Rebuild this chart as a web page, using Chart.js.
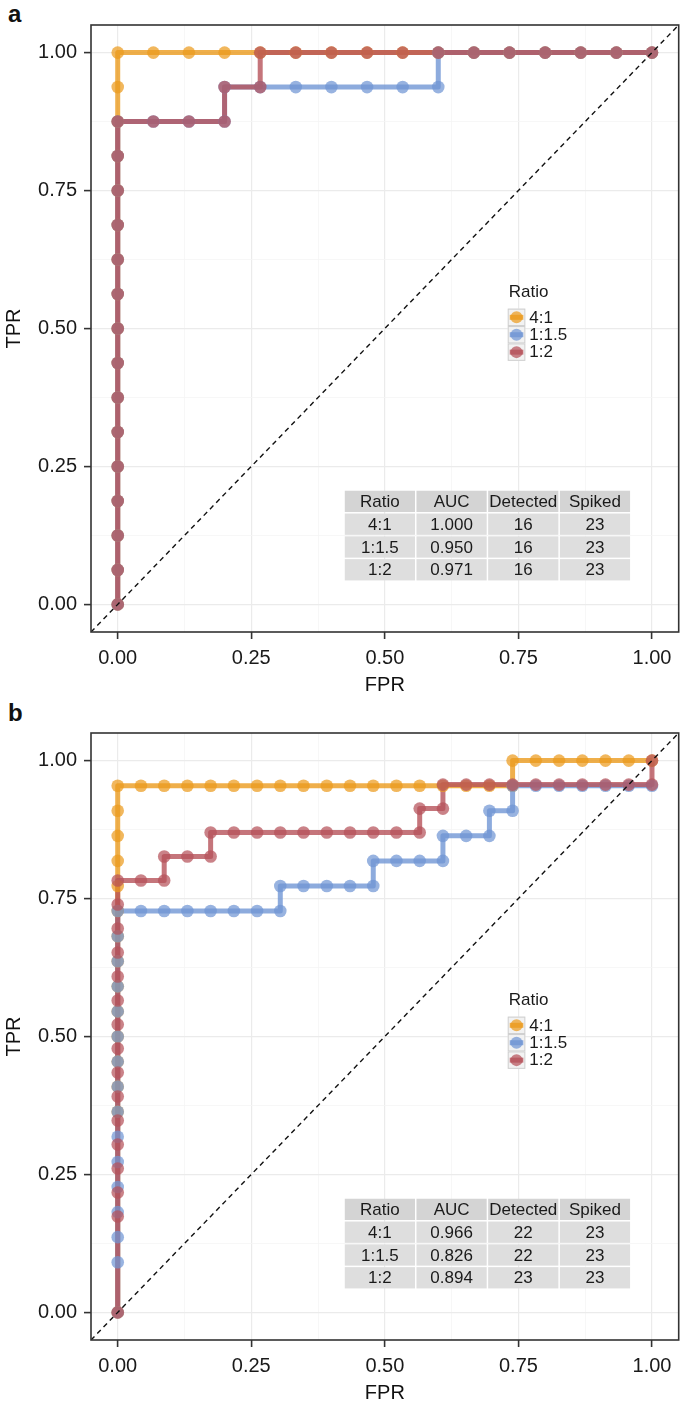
<!DOCTYPE html>
<html>
<head>
<meta charset="utf-8">
<script src="https://cdn.jsdelivr.net/npm/chart.js@4.4.0/dist/chart.umd.min.js"></script>
<style>
  html, body { margin: 0; padding: 0; background: #fff; }
  body { width: 685px; height: 1411px; position: relative; overflow: hidden; font-family: "Liberation Sans", Arial, sans-serif; }
  canvas { position: absolute; left: 0; }
  #chartA { top: 0; }
  #chartB { top: 708px; }
  .tag { position: absolute; left: 8px; font-weight: bold; font-size: 24px; line-height: 28px; color: #111; }
</style>
</head>
<body>
<div class="tag" style="top:0">a</div>
<div class="tag" style="top:699px">b</div>
<canvas id="chartA" width="685" height="702"></canvas>
<canvas id="chartB" width="685" height="702"></canvas>
<script>
// ---- data ----
const ratios = ['4:1', '1:1.5', '1:2'];
const tickVals = [0, 0.25, 0.5, 0.75, 1];
const tickLabels = ['0.00', '0.25', '0.50', '0.75', '1.00'];
const gridVals = [0, 0.125, 0.25, 0.375, 0.5, 0.625, 0.75, 0.875, 1];
const diagonal = [-0.05, 1.05];
const tableHead = ['Ratio', 'AUC', 'Detected', 'Spiked'];

// panel a
const fprA_41 = [0, 0, 0, 0, 0, 0, 0, 0, 0, 0, 0, 0, 0, 0, 0, 0, 0,
  0.0667, 0.1333, 0.2, 0.2667, 0.3333, 0.4, 0.4667, 0.5333, 0.6, 0.6667, 0.7333, 0.8, 0.8667, 0.9333, 1];
const tprA_41 = [0, 0.0625, 0.125, 0.1875, 0.25, 0.3125, 0.375, 0.4375, 0.5, 0.5625, 0.625, 0.6875, 0.75, 0.8125, 0.875, 0.9375, 1,
  1, 1, 1, 1, 1, 1, 1, 1, 1, 1, 1, 1, 1, 1, 1];
const fprA_115 = [0, 0, 0, 0, 0, 0, 0, 0, 0, 0, 0, 0, 0, 0, 0,
  0.0667, 0.1333, 0.2, 0.2, 0.2667, 0.3333, 0.4, 0.4667, 0.5333, 0.6, 0.6, 0.6667, 0.7333, 0.8, 0.8667, 0.9333, 1];
const tprA_115 = [0, 0.0625, 0.125, 0.1875, 0.25, 0.3125, 0.375, 0.4375, 0.5, 0.5625, 0.625, 0.6875, 0.75, 0.8125, 0.875,
  0.875, 0.875, 0.875, 0.9375, 0.9375, 0.9375, 0.9375, 0.9375, 0.9375, 0.9375, 1, 1, 1, 1, 1, 1, 1];
const fprA_12 = [0, 0, 0, 0, 0, 0, 0, 0, 0, 0, 0, 0, 0, 0, 0,
  0.0667, 0.1333, 0.2, 0.2, 0.2667, 0.2667, 0.3333, 0.4, 0.4667, 0.5333, 0.6, 0.6667, 0.7333, 0.8, 0.8667, 0.9333, 1];
const tprA_12 = [0, 0.0625, 0.125, 0.1875, 0.25, 0.3125, 0.375, 0.4375, 0.5, 0.5625, 0.625, 0.6875, 0.75, 0.8125, 0.875,
  0.875, 0.875, 0.875, 0.9375, 0.9375, 1, 1, 1, 1, 1, 1, 1, 1, 1, 1, 1, 1];
const aucA = [1.000, 0.950, 0.971];
const detectedA = [16, 16, 16];
const spikedA = [23, 23, 23];

// panel b
const fprB_41 = [0, 0, 0, 0, 0, 0, 0, 0, 0, 0, 0, 0, 0, 0, 0,
  0.0435, 0.087, 0.1304, 0.1739, 0.2174, 0.2609, 0.3043, 0.3478, 0.3913, 0.4348, 0.4783, 0.5217, 0.5652, 0.6087, 0.6522, 0.6957, 0.7391,
  0.7391, 0.7826, 0.8261, 0.8696, 0.913, 0.9565, 1];
const tprB_41 = [0, 0.3636, 0.4091, 0.4545, 0.5, 0.5455, 0.5909, 0.6364, 0.6818, 0.7273, 0.7727, 0.8182, 0.8636, 0.9091, 0.9545,
  0.9545, 0.9545, 0.9545, 0.9545, 0.9545, 0.9545, 0.9545, 0.9545, 0.9545, 0.9545, 0.9545, 0.9545, 0.9545, 0.9545, 0.9545, 0.9545, 0.9545,
  1, 1, 1, 1, 1, 1, 1];
const fprB_115 = [0, 0, 0, 0, 0, 0, 0, 0, 0, 0, 0, 0, 0, 0, 0, 0,
  0.0435, 0.087, 0.1304, 0.1739, 0.2174, 0.2609, 0.3043,
  0.3043, 0.3478, 0.3913, 0.4348, 0.4783,
  0.4783, 0.5217, 0.5652, 0.6087,
  0.6087, 0.6522, 0.6957,
  0.6957, 0.7391,
  0.7391, 0.7826, 0.8261, 0.8696, 0.913, 0.9565, 1];
const tprB_115 = [0, 0.0909, 0.1364, 0.1818, 0.2273, 0.2727, 0.3182, 0.3636, 0.4091, 0.4545, 0.5, 0.5455, 0.5909, 0.6364, 0.6818, 0.7273,
  0.7273, 0.7273, 0.7273, 0.7273, 0.7273, 0.7273, 0.7273,
  0.7727, 0.7727, 0.7727, 0.7727, 0.7727,
  0.8182, 0.8182, 0.8182, 0.8182,
  0.8636, 0.8636, 0.8636,
  0.9091, 0.9091,
  0.9545, 0.9545, 0.9545, 0.9545, 0.9545, 0.9545, 0.9545];
const fprB_12 = [0, 0, 0, 0, 0, 0, 0, 0, 0, 0, 0, 0, 0, 0, 0, 0,
  0.0435, 0.087,
  0.087, 0.1304, 0.1739,
  0.1739, 0.2174, 0.2609, 0.3043, 0.3478, 0.3913, 0.4348, 0.4783, 0.5217, 0.5652,
  0.5652, 0.6087,
  0.6087, 0.6522, 0.6957, 0.7391, 0.7826, 0.8261, 0.8696, 0.913, 0.9565, 1,
  1];
const tprB_12 = [0, 0.1739, 0.2174, 0.2609, 0.3043, 0.3478, 0.3913, 0.4348, 0.4783, 0.5217, 0.5652, 0.6087, 0.6522, 0.6957, 0.7391, 0.7826,
  0.7826, 0.7826,
  0.8261, 0.8261, 0.8261,
  0.8696, 0.8696, 0.8696, 0.8696, 0.8696, 0.8696, 0.8696, 0.8696, 0.8696, 0.8696,
  0.913, 0.913,
  0.9565, 0.9565, 0.9565, 0.9565, 0.9565, 0.9565, 0.9565, 0.9565, 0.9565, 0.9565,
  1];
const aucB = [0.966, 0.826, 0.894];
const detectedB = [22, 22, 23];
const spikedB = [23, 23, 23];

// ---- styles ----
const baseRGB = ['235,155,30', '112,150,212', '182,82,90'];
const lineColors = baseRGB.map(c => `rgba(${c},0.8)`);
const pointColors = baseRGB.map(c => `rgba(${c},0.72)`);
const legendAt = [0.73, 0.565];   // data coords of legend title (left, middle)
const tableAt = [0.425, 0.206];   // data coords of table top-left
const FONT = '"Liberation Sans", Arial, sans-serif';
Chart.defaults.font.family = FONT;

const isMajor = v => tickVals.some(t => Math.abs(t - v) < 1e-6);

function pts(fpr, tpr) {
  return fpr.map((x, i) => ({ x: x, y: tpr[i] }));
}

function buildDatasets(series) {
  const ds = [];
  // lines first (all series), then points, then the chance diagonal on top
  series.forEach((s, i) => ds.push({
    data: pts(s[0], s[1]), showLine: true, borderColor: lineColors[i], borderWidth: 5,
    pointRadius: 0, borderJoinStyle: 'round', order: 10 - i
  }));
  series.forEach((s, i) => ds.push({
    data: pts(s[0], s[1]), showLine: false, pointRadius: 6.3, pointBorderWidth: 0,
    pointBackgroundColor: pointColors[i], backgroundColor: pointColors[i], borderColor: 'rgba(0,0,0,0)', order: 6 - i
  }));
  ds.push({
    data: pts(diagonal, diagonal), showLine: true, borderColor: '#111', borderWidth: 1.4,
    borderDash: [5, 4], pointRadius: 0, order: 0
  });
  return ds;
}

function axis(titleText) {
  return {
    type: 'linear', min: -0.05, max: 1.05,
    afterBuildTicks: s => { s.ticks = gridVals.map(v => ({ value: v })); },
    ticks: {
      autoSkip: false, maxRotation: 0, padding: 7, color: '#1a1a1a',
      font: { size: 20 },
      callback: v => { const k = tickVals.findIndex(t => Math.abs(t - v) < 1e-6); return k < 0 ? '' : tickLabels[k]; }
    },
    grid: {
      color: c => isMajor(c.tick.value) ? '#EBEBEB' : '#F5F5F5',
      lineWidth: c => isMajor(c.tick.value) ? 1.2 : 0.8,
      tickColor: c => isMajor(c.tick.value) ? '#333' : 'rgba(0,0,0,0)',
      tickLength: 7, tickWidth: 1.6
    },
    border: { display: false },
    title: { display: true, text: titleText, color: '#111', font: { size: 20 }, padding: { top: 2, bottom: 5 } }
  };
}

const panelDecor = {
  id: 'panelDecor',
  afterDraw(chart, args, opts) {
    const { ctx, chartArea: a, scales: { x, y } } = chart;
    ctx.save();
    // panel frame
    ctx.strokeStyle = '#333';
    ctx.lineWidth = 1.6;
    ctx.strokeRect(a.left, a.top, a.right - a.left, a.bottom - a.top);

    // legend
    const lx = x.getPixelForValue(legendAt[0]);
    const ly = y.getPixelForValue(legendAt[1]);
    ctx.font = '17px ' + FONT;
    ctx.textBaseline = 'middle';
    ctx.textAlign = 'left';
    ctx.fillStyle = '#1a1a1a';
    ctx.fillText('Ratio', lx + 1, ly);
    const kw = 17.6, kh = 17.4;
    ratios.forEach((r, i) => {
      const by = ly + 16 + i * kh;
      ctx.fillStyle = '#F2F2F2';
      ctx.fillRect(lx, by, kw, kh);
      ctx.strokeStyle = '#CFCFCF';
      ctx.lineWidth = 1;
      ctx.strokeRect(lx + 0.5, by + 0.5, kw - 1, kh - 1);
      ctx.strokeStyle = lineColors[i];
      ctx.lineWidth = 5;
      ctx.beginPath();
      ctx.moveTo(lx + 2, by + kh / 2);
      ctx.lineTo(lx + kw - 2, by + kh / 2);
      ctx.stroke();
      ctx.fillStyle = pointColors[i];
      ctx.beginPath();
      ctx.arc(lx + kw / 2, by + kh / 2, 6, 0, Math.PI * 2);
      ctx.fill();
      ctx.fillStyle = '#1a1a1a';
      ctx.fillText(r, lx + kw + 4, by + kh / 2 + 0.5);
    });

    // AUC table
    const tx = x.getPixelForValue(tableAt[0]);
    const ty = y.getPixelForValue(tableAt[1]);
    const cw = 71.7, rh = 22.8;
    const rows = [tableHead].concat(opts.rows);
    ctx.font = '17px ' + FONT;
    ctx.textAlign = 'center';
    rows.forEach((row, r) => {
      row.forEach((txt, c) => {
        const cx = tx + c * cw, cy = ty + r * rh;
        ctx.fillStyle = r === 0 ? '#D4D4D4' : '#DEDEDE';
        ctx.fillRect(cx, cy, cw - 1.5, rh - 1.5);
        ctx.fillStyle = '#1a1a1a';
        ctx.fillText(txt, cx + (cw - 1.5) / 2, cy + (rh - 1.5) / 2 + 1);
      });
    });
    ctx.restore();
  }
};

function tableRows(auc, detected, spiked) {
  return ratios.map((r, i) => [r, auc[i].toFixed(3), String(detected[i]), String(spiked[i])]);
}

function makeChart(id, series, rows) {
  const xAxis = axis('FPR');
  xAxis.afterFit = s => { s.height = 70; };
  const yAxis = axis('TPR');
  yAxis.afterFit = s => { s.width = 91; };
  return new Chart(document.getElementById(id), {
    type: 'scatter',
    data: { datasets: buildDatasets(series) },
    options: {
      responsive: false,
      animation: false,
      events: [],
      layout: { padding: { top: 25, right: 1, left: 0, bottom: 0 } },
      plugins: {
        legend: { display: false },
        tooltip: { enabled: false },
        panelDecor: { rows: rows }
      },
      scales: { x: xAxis, y: yAxis }
    },
    plugins: [panelDecor]
  });
}

makeChart('chartA',
  [[fprA_41, tprA_41], [fprA_115, tprA_115], [fprA_12, tprA_12]],
  tableRows(aucA, detectedA, spikedA));
makeChart('chartB',
  [[fprB_41, tprB_41], [fprB_115, tprB_115], [fprB_12, tprB_12]],
  tableRows(aucB, detectedB, spikedB));
</script>
</body>
</html>
